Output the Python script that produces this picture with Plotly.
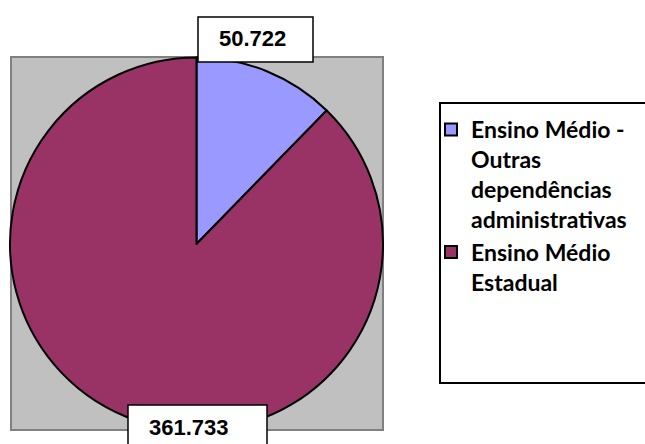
import plotly.graph_objects as go

categories = ["Ensino Médio -<br>Outras<br>dependências<br>administrativas",
              "Ensino Médio<br>Estadual"]
values = [50722, 361733]
colors = ["#9999FF", "#993366"]

W, H = 645, 444

def px(x):
    return x / W

def py(y):
    return 1 - y / H

def fmt(v):
    return f"{v:,}".replace(",", ".")

fig = go.Figure()
fig.add_trace(go.Pie(
    labels=categories,
    values=values,
    sort=False,
    direction="clockwise",
    rotation=0,
    textinfo="none",
    marker=dict(colors=colors, line=dict(color="black", width=2)),
    domain=dict(x=[px(10), px(383)], y=[py(431), py(57)]),
    showlegend=True,
))

shapes = [
    # plot area background
    dict(type="rect", xref="paper", yref="paper", x0=px(11), x1=px(383), y0=py(430), y1=py(57),
         fillcolor="#C0C0C0", line=dict(color="#808080", width=2), layer="below"),
    # legend frame
    dict(type="rect", xref="paper", yref="paper", x0=px(440), x1=px(650), y0=py(383), y1=py(103),
         fillcolor="rgba(0,0,0,0)", line=dict(color="black", width=2), layer="above"),
    # label boxes
    dict(type="rect", xref="paper", yref="paper", x0=px(198), x1=px(313), y0=py(62), y1=py(17),
         fillcolor="white", line=dict(color="black", width=1.5), layer="above"),
    dict(type="rect", xref="paper", yref="paper", x0=px(128), x1=px(267), y0=py(448), y1=py(405),
         fillcolor="white", line=dict(color="black", width=1.5), layer="above"),
]

annotations = [
    dict(text="<b>" + fmt(values[0]) + "</b>", xref="paper", yref="paper",
         x=px(217), y=py(39), xanchor="left", yanchor="middle", showarrow=False,
         font=dict(family="Arial", size=22, color="black")),
    dict(text="<b>" + fmt(values[1]) + "</b>", xref="paper", yref="paper",
         x=px(147), y=py(427), xanchor="left", yanchor="middle", showarrow=False,
         font=dict(family="Arial", size=22, color="black")),
]

fig.update_layout(
    width=W, height=H,
    margin=dict(l=0, r=0, t=0, b=0),
    paper_bgcolor="white",
    plot_bgcolor="white",
    shapes=shapes,
    annotations=annotations,
    legend=dict(
        x=px(431), y=py(108), xanchor="left", yanchor="top",
        bgcolor="rgba(0,0,0,0)", borderwidth=0,
        font=dict(family="Lato", size=23, color="black", weight="bold"),
        valign="top", tracegroupgap=3,
    ),
)

fig.write_html("out.html")
